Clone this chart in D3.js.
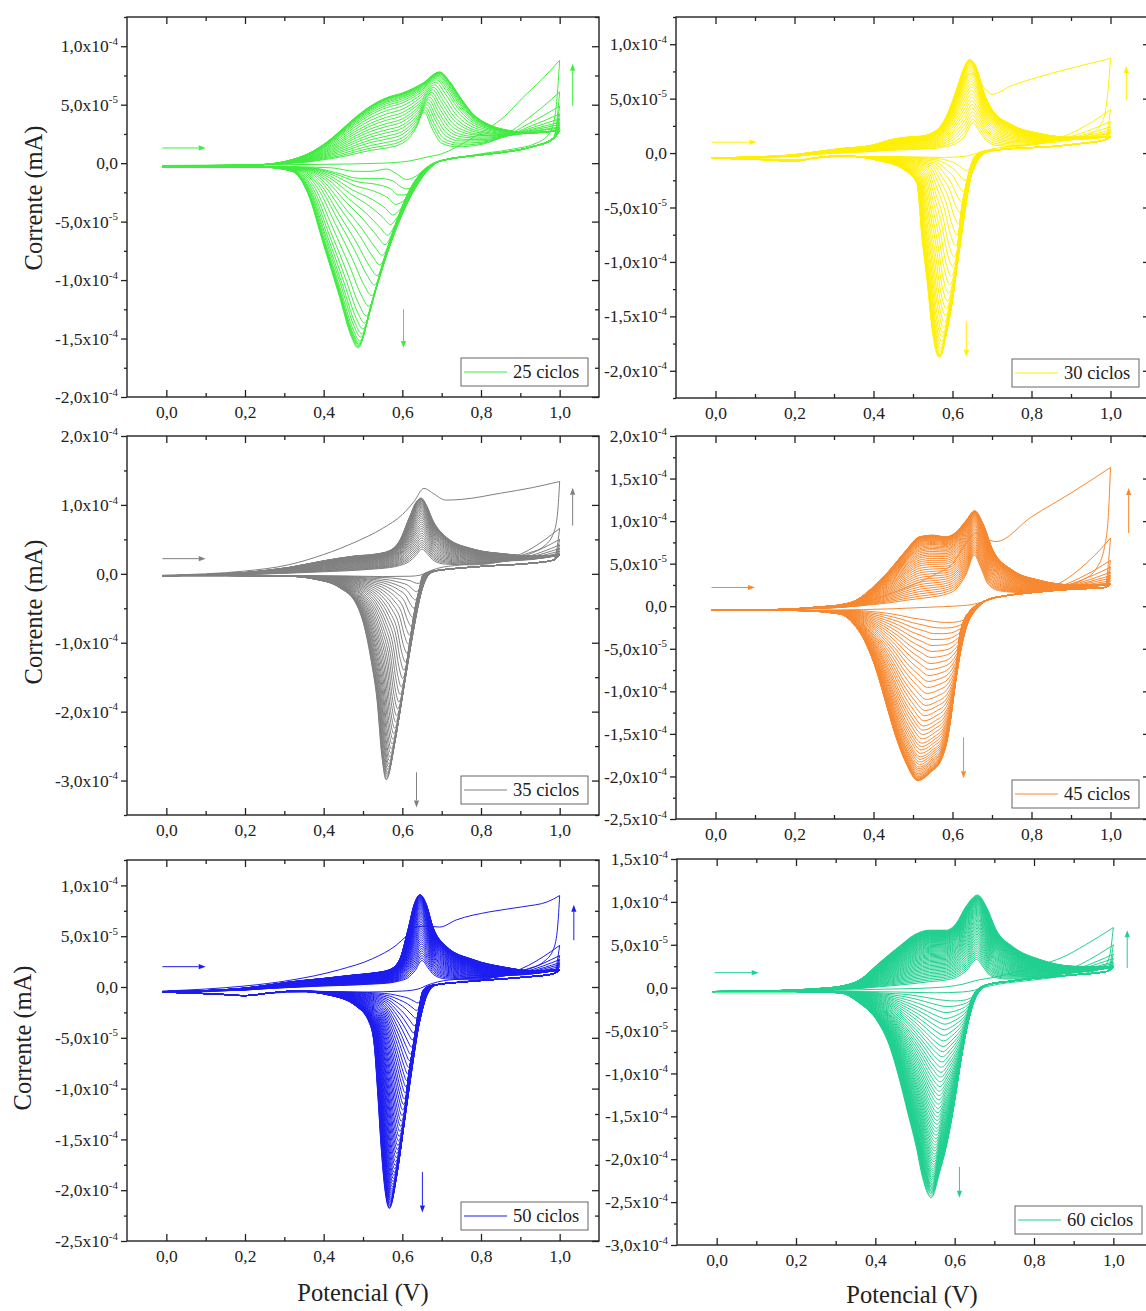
<!DOCTYPE html>
<html>
<head>
<meta charset="utf-8">
<script src="https://cdn.jsdelivr.net/npm/d3@7"></script>
<style>
  body { margin: 0; background: #fff; }
  svg { display: block; }
  text { font-family: "Liberation Serif", "Times New Roman", serif; fill: #222; }
</style>
</head>
<body>
<svg id="fig" width="1146" height="1311"></svg>
<script>
// currents in the arrays are in units of 1e-5 mA, potentials in V
const UNIT = 1e-5;

const xDomain = [-0.1, 1.1];
const xMajor = [0, 0.2, 0.4, 0.6, 0.8, 1.0];
const xMinor = [0.1, 0.3, 0.5, 0.7, 0.9];
// potentials used to draw the rising branch before the 1,0 V vertex
const tailE = [0.80, 0.84, 0.88, 0.92, 0.96, 1.0];

// ---------- 25 ciclos ----------
const yDom25 = [-2e-4, 1.25e-4];
const yTicks25 = [-2e-4, -1.5e-4, -1e-4, -5e-5, 0, 5e-5, 1e-4];
const fwdFirst25 = [[-0.01,-0.2],[0.2,-0.15],[0.4,-0.1],[0.55,0],[0.62,0.2],[0.66,0.5],[0.70,0.8],[0.77,2.0],[0.82,3.0],[0.86,4.0],[0.906,5.6],[0.95,7.0],[1.0,8.8]];
const revFirst25 = [[1.0,8.8],[0.99,4.5],[0.975,2.6],[0.94,1.7],[0.88,1.2],[0.80,0.8],[0.73,0.4],[0.685,0.1],[0.66,-0.4],[0.635,-1.1],[0.61,-1.4],[0.585,-0.9],[0.56,-0.5],[0.52,-0.7],[0.48,-0.7],[0.42,-0.4],[0.3,-0.3],[0.1,-0.3],[-0.01,-0.3]];
const fwdEarly25 = [[-0.01,-0.2],[0.1,-0.2],[0.2,-0.15],[0.28,-0.1],[0.32,0],[0.36,0.1],[0.40,0.3],[0.44,0.5],[0.48,0.8],[0.52,1.1],[0.56,1.3],[0.60,1.7],[0.635,3.0],[0.655,4.4],[0.675,3.0],[0.70,1.7],[0.74,1.4],[0.80,1.6],[0.86,2.0],[0.93,2.6],[1.0,2.8]];
const fwdLate25 = [[-0.01,-0.3],[0.1,-0.25],[0.2,-0.2],[0.28,0],[0.32,0.3],[0.36,0.8],[0.40,1.6],[0.44,2.7],[0.48,3.9],[0.52,4.9],[0.56,5.6],[0.60,6.0],[0.65,6.8],[0.695,7.8],[0.72,7.0],[0.75,5.5],[0.78,4.2],[0.82,3.3],[0.87,2.8],[0.93,2.6],[1.0,2.8]];
const revEarly25 = [[1.0,2.8],[0.985,2.2],[0.93,1.4],[0.85,0.9],[0.77,0.6],[0.72,0.35],[0.69,0.1],[0.675,-0.3],[0.655,-1.0],[0.64,-1.7],[0.625,-2.1],[0.61,-2.2],[0.595,-2.0],[0.575,-1.5],[0.54,-1.3],[0.49,-1.3],[0.43,-0.8],[0.37,-0.4],[0.28,-0.3],[0.1,-0.3],[-0.01,-0.3]];
const revLate25 = [[1.0,2.8],[0.985,2.1],[0.93,1.4],[0.85,0.9],[0.77,0.6],[0.71,0.3],[0.675,-0.1],[0.655,-0.6],[0.62,-2.2],[0.585,-5.0],[0.55,-8.6],[0.52,-12.2],[0.487,-15.8],[0.47,-14.8],[0.44,-11.4],[0.40,-7.0],[0.36,-2.6],[0.32,-0.7],[0.25,-0.35],[0.1,-0.3],[-0.01,-0.3]];
const peaks25 = [-1.4,-2.2,-2.9,-3.7,-4.6,-5.4,-6.3,-7.1,-8.0,-8.8,-9.7,-10.5,-11.4,-12.3,-13.1,-13.7,-14.2,-14.6,-14.9,-15.2,-15.4,-15.5,-15.6,-15.7,-15.8];
const vertex25 = [6.1, 4.9, 4.2, 3.8, 3.5, 3.3, 3.1, 3.0];
const arrows25 = [[-0.01,1.3,0.1,1.3],[0.603,-12.5,0.603,-15.8],[1.033,4.9,1.033,8.5]];

// ---------- 30 ciclos ----------
const yDom30 = [-2.25e-4, 1.25e-4];
const yTicks30 = [-2e-4, -1.5e-4, -1e-4, -5e-5, 0, 5e-5, 1e-4];
const fwdFirst30 = [[-0.01,-0.45],[0.1,-0.35],[0.2,-0.15],[0.3,0.3],[0.4,0.7],[0.48,1.3],[0.54,1.7],[0.58,2.8],[0.61,5.0],[0.635,7.0],[0.65,7.3],[0.665,6.8],[0.685,5.8],[0.70,5.4],[0.75,6.2],[0.8,6.8],[0.9,7.8],[1.0,8.7]];
const revFirst30 = [[1.0,8.7],[0.99,4.5],[0.975,2.6],[0.94,1.6],[0.88,1.1],[0.8,0.8],[0.72,0.5],[0.68,0.2],[0.655,-0.1],[0.63,-0.3],[0.58,-0.4],[0.5,-0.35],[0.4,-0.3],[0.3,-0.35],[0.2,-0.6],[0.1,-0.5],[-0.01,-0.45]];
const fwdEarly30 = [[-0.01,-0.45],[0.1,-0.4],[0.2,-0.3],[0.26,-0.1],[0.314,0],[0.40,0.15],[0.44,0.25],[0.48,0.3],[0.52,0.35],[0.56,0.45],[0.585,0.6],[0.61,0.9],[0.632,1.6],[0.652,2.8],[0.668,2.0],[0.685,1.2],[0.71,0.7],[0.76,0.6],[0.82,0.8],[0.90,1.1],[1.0,1.5]];
const fwdLate30 = [[-0.01,-0.45],[0.1,-0.35],[0.2,-0.15],[0.26,0.15],[0.314,0.4],[0.40,0.75],[0.44,1.2],[0.48,1.45],[0.52,1.55],[0.56,2.1],[0.585,3.4],[0.61,5.8],[0.63,7.9],[0.643,8.6],[0.66,7.9],[0.677,5.8],[0.70,4.0],[0.75,2.6],[0.82,1.8],[0.90,1.45],[1.0,1.5]];
const revEarly30 = [[1.0,1.5],[0.985,1.2],[0.93,0.9],[0.85,0.6],[0.77,0.45],[0.72,0.3],[0.69,0.1],[0.675,-0.2],[0.665,-0.6],[0.655,-1.0],[0.648,-1.3],[0.642,-1.5],[0.635,-1.6],[0.625,-1.4],[0.61,-1.0],[0.59,-0.7],[0.56,-0.5],[0.50,-0.4],[0.415,-0.35],[0.32,-0.3],[0.25,-0.45],[0.2,-0.7],[0.12,-0.6],[-0.01,-0.45]];
const revLate30 = [[1.0,1.5],[0.985,1.2],[0.93,0.9],[0.85,0.6],[0.77,0.45],[0.71,0.3],[0.672,0.1],[0.655,-0.4],[0.635,-2.8],[0.62,-5.9],[0.605,-12.0],[0.585,-16.5],[0.567,-18.8],[0.55,-16.6],[0.535,-11.5],[0.522,-7.5],[0.51,-2.8],[0.48,-1.6],[0.415,-0.7],[0.32,-0.25],[0.25,-0.45],[0.2,-0.75],[0.12,-0.6],[-0.01,-0.45]];
const peaks30 = [-0.5,-1.6,-2.5,-3.5,-4.5,-5.5,-6.5,-7.5,-8.5,-9.5,-10.4,-11.3,-12.1,-12.9,-13.6,-14.3,-14.9,-15.5,-16.0,-16.5,-16.9,-17.3,-17.6,-17.9,-18.1,-18.3,-18.5,-18.6,-18.7,-18.8];
const vertex30 = [4.0, 2.9, 2.4, 2.1, 1.9, 1.8];
const arrows30 = [[-0.01,1.0,0.104,1.0],[0.635,-15.5,0.635,-18.7],[1.04,4.9,1.04,8.0]];

// ---------- 35 ciclos ----------
const yDom35 = [-3.5e-4, 2e-4];
const yTicks35 = [-3e-4, -2e-4, -1e-4, 0, 1e-4, 2e-4];
const fwdFirst35 = [[-0.01,-0.2],[0.1,0],[0.2,0.4],[0.31,1.3],[0.4,2.8],[0.48,4.6],[0.55,6.6],[0.6,8.6],[0.63,10.5],[0.655,12.4],[0.68,11.6],[0.71,10.7],[0.75,10.8],[0.85,11.7],[0.93,12.5],[1.0,13.4]];
const revFirst35 = [[1.0,13.4],[0.995,9.0],[0.985,6.0],[0.96,4.0],[0.92,3.0],[0.85,2.0],[0.75,1.3],[0.69,0.8],[0.665,0.3],[0.645,-0.2],[0.62,-0.35],[0.55,-0.4],[0.45,-0.3],[0.3,-0.25],[0.1,-0.25],[-0.01,-0.25]];
const fwdEarly35 = [[-0.01,-0.3],[0.1,-0.2],[0.2,-0.1],[0.26,0],[0.313,0.1],[0.40,0.3],[0.48,0.5],[0.53,0.7],[0.567,0.9],[0.593,1.2],[0.618,1.8],[0.635,2.7],[0.65,3.6],[0.665,2.8],[0.68,1.9],[0.71,1.4],[0.78,1.3],[0.86,1.5],[0.93,1.9],[1.0,2.7]];
const fwdLate35 = [[-0.01,-0.3],[0.1,-0.1],[0.2,0.2],[0.26,0.55],[0.313,0.95],[0.40,1.9],[0.48,2.6],[0.53,2.85],[0.567,3.35],[0.593,4.8],[0.618,8.2],[0.635,10.4],[0.648,11.0],[0.66,10.1],[0.678,7.7],[0.712,5.3],[0.78,3.6],[0.86,2.9],[0.93,2.6],[1.0,2.7]];
const revEarly35 = [[1.0,2.7],[0.985,2.0],[0.92,1.5],[0.82,1.15],[0.74,0.8],[0.70,0.55],[0.68,0.3],[0.67,0.0],[0.665,-0.3],[0.66,-0.6],[0.655,-0.9],[0.65,-1.1],[0.645,-1.3],[0.64,-1.4],[0.632,-1.3],[0.62,-1.0],[0.60,-0.8],[0.57,-0.6],[0.53,-0.5],[0.47,-0.4],[0.38,-0.3],[0.31,-0.25],[0.15,-0.25],[-0.01,-0.25]];
const revLate35 = [[1.0,2.7],[0.985,2.0],[0.92,1.5],[0.82,1.15],[0.74,0.8],[0.69,0.5],[0.665,0.2],[0.652,-0.2],[0.644,-2.0],[0.631,-5.4],[0.618,-10.2],[0.60,-17.5],[0.58,-24.8],[0.559,-29.9],[0.548,-26.5],[0.536,-18.5],[0.521,-12.7],[0.504,-7.8],[0.483,-4.4],[0.44,-2.0],[0.38,-0.8],[0.31,-0.35],[0.15,-0.25],[-0.01,-0.25]];
const peaks35 = [-0.4,-1.4,-2.6,-3.8,-5.0,-6.3,-7.6,-8.9,-10.2,-11.5,-12.8,-14.0,-15.2,-16.4,-17.5,-18.6,-19.6,-20.6,-21.5,-22.4,-23.2,-24.0,-24.7,-25.4,-26.0,-26.6,-27.1,-27.6,-28.0,-28.4,-28.8,-29.1,-29.4,-29.7,-29.9];
const vertex35 = [6.6, 5.0, 4.2, 3.7, 3.3, 3.0];
const arrows35 = [[-0.01,2.2,0.1,2.2],[0.636,-28.8,0.636,-33.9],[1.033,7.0,1.033,12.5]];

// ---------- 45 ciclos ----------
const yDom45 = [-2.5e-4, 2e-4];
const yTicks45 = [-2.5e-4, -2e-4, -1.5e-4, -1e-4, -5e-5, 0, 5e-5, 1e-4, 1.5e-4, 2e-4];
const fwdFirst45 = [[-0.01,-0.5],[0.2,-0.3],[0.35,0.2],[0.45,1.6],[0.55,3.6],[0.6,5.0],[0.64,7.8],[0.66,8.6],[0.685,7.9],[0.71,7.6],[0.8,10.5],[0.9,13.3],[1.0,16.3]];
const revFirst45 = [[1.0,16.3],[0.995,11.0],[0.985,7.0],[0.965,4.5],[0.93,3.1],[0.87,2.3],[0.78,1.6],[0.71,1.0],[0.675,0.5],[0.65,0.2],[0.6,0.0],[0.55,-0.1],[0.45,-0.3],[0.3,-0.45],[0.1,-0.5],[-0.01,-0.5]];
const fwdEarly45 = [[-0.01,-0.5],[0.1,-0.45],[0.2,-0.35],[0.27,-0.25],[0.314,-0.15],[0.356,0],[0.40,0.2],[0.44,0.4],[0.483,0.7],[0.516,0.9],[0.55,1.1],[0.583,1.4],[0.609,2.0],[0.635,3.8],[0.655,6.0],[0.672,4.5],[0.69,2.6],[0.72,1.8],[0.78,1.6],[0.88,1.9],[1.0,2.6]];
const fwdLate45 = [[-0.01,-0.5],[0.1,-0.45],[0.2,-0.3],[0.27,-0.05],[0.314,0.15],[0.356,0.7],[0.40,2.3],[0.44,4.2],[0.483,6.6],[0.516,8.15],[0.55,8.35],[0.583,8.15],[0.609,8.7],[0.635,10.1],[0.656,11.2],[0.677,9.7],[0.702,6.6],[0.753,4.2],[0.82,3.05],[0.905,2.5],[1.0,2.6]];
const revEarly45 = [[1.0,2.6],[0.985,2.2],[0.90,2.0],[0.80,1.6],[0.73,1.2],[0.70,0.9],[0.68,0.5],[0.67,0.1],[0.66,-0.4],[0.65,-0.9],[0.64,-1.3],[0.63,-1.6],[0.615,-1.8],[0.60,-1.9],[0.58,-1.9],[0.555,-1.8],[0.53,-1.6],[0.50,-1.4],[0.47,-1.1],[0.43,-0.8],[0.39,-0.6],[0.35,-0.5],[0.314,-0.5],[0.2,-0.5],[-0.01,-0.5]];
const revLate45 = [[1.0,2.6],[0.985,2.2],[0.90,2.0],[0.80,1.6],[0.73,1.2],[0.69,0.8],[0.668,0.3],[0.645,-0.5],[0.628,-1.8],[0.617,-3.8],[0.609,-7.5],[0.60,-11.5],[0.588,-15.4],[0.572,-18.0],[0.545,-19.5],[0.512,-20.5],[0.483,-18.5],[0.457,-15.4],[0.432,-11.5],[0.407,-7.5],[0.381,-4.4],[0.348,-2.0],[0.314,-0.9],[0.2,-0.5],[-0.01,-0.5]];
const peaks45 = [-0.3,-1.9,-2.6,-3.3,-4.0,-4.7,-5.4,-6.1,-6.8,-7.5,-8.2,-8.9,-9.6,-10.3,-11.0,-11.7,-12.3,-12.9,-13.5,-14.1,-14.6,-15.1,-15.6,-16.1,-16.5,-16.9,-17.3,-17.7,-18.0,-18.3,-18.6,-18.9,-19.1,-19.3,-19.5,-19.7,-19.85,-20.0,-20.1,-20.2,-20.3,-20.35,-20.4,-20.45,-20.5];
const vertex45 = [8.0, 5.4, 4.6, 4.0, 3.6, 3.3, 3.0];
const arrows45 = [[-0.01,2.2,0.1,2.2],[0.628,-15.4,0.628,-20.2],[1.046,8.6,1.046,13.9]];

// ---------- 50 ciclos ----------
const yDom50 = [-2.5e-4, 1.25e-4];
const yTicks50 = [-2.5e-4, -2e-4, -1.5e-4, -1e-4, -5e-5, 0, 5e-5, 1e-4];
const fwdFirst50 = [[-0.01,-0.4],[0.1,-0.2],[0.2,0.1],[0.313,0.65],[0.44,1.7],[0.525,2.8],[0.584,4.1],[0.61,5.0],[0.635,5.9],[0.66,6.0],[0.695,5.9],[0.737,6.6],[0.822,7.4],[0.906,7.9],[0.97,8.4],[1.0,9.0]];
const revFirst50 = [[1.0,9.0],[0.995,6.0],[0.985,3.8],[0.96,2.5],[0.92,1.8],[0.85,1.2],[0.75,0.8],[0.69,0.5],[0.665,0.2],[0.64,-0.2],[0.6,-0.4],[0.5,-0.5],[0.35,-0.5],[0.26,-0.6],[0.2,-0.85],[0.12,-0.65],[-0.01,-0.5]];
const fwdEarly50 = [[-0.01,-0.45],[0.1,-0.4],[0.2,-0.3],[0.26,-0.15],[0.313,-0.05],[0.40,0.1],[0.48,0.2],[0.53,0.3],[0.567,0.4],[0.593,0.6],[0.614,0.9],[0.632,1.6],[0.65,2.6],[0.665,1.9],[0.68,1.2],[0.71,0.8],[0.78,0.7],[0.86,0.9],[0.93,1.2],[1.0,1.7]];
const fwdLate50 = [[-0.01,-0.45],[0.1,-0.35],[0.2,-0.1],[0.26,0.2],[0.313,0.5],[0.40,0.85],[0.48,1.2],[0.53,1.4],[0.567,1.7],[0.593,2.7],[0.614,5.6],[0.631,8.25],[0.645,9.1],[0.66,8.25],[0.678,5.9],[0.712,4.0],[0.78,2.7],[0.86,1.95],[0.93,1.6],[1.0,1.7]];
const revEarly50 = [[1.0,1.7],[0.985,1.3],[0.92,1.0],[0.82,0.7],[0.74,0.45],[0.70,0.3],[0.68,0.1],[0.672,-0.2],[0.665,-0.6],[0.66,-0.9],[0.655,-1.2],[0.65,-1.4],[0.645,-1.5],[0.638,-1.55],[0.63,-1.4],[0.615,-1.1],[0.595,-0.9],[0.57,-0.7],[0.54,-0.6],[0.483,-0.5],[0.415,-0.45],[0.33,-0.4],[0.26,-0.6],[0.2,-0.85],[0.13,-0.7],[-0.01,-0.5]];
const revLate50 = [[1.0,1.7],[0.985,1.3],[0.92,1.0],[0.82,0.7],[0.74,0.45],[0.69,0.25],[0.665,0.05],[0.652,-0.4],[0.64,-2.6],[0.627,-5.9],[0.614,-9.2],[0.60,-14.5],[0.584,-19.0],[0.567,-21.8],[0.555,-19.7],[0.546,-15.7],[0.538,-10.8],[0.529,-5.9],[0.517,-3.6],[0.483,-1.9],[0.415,-0.8],[0.33,-0.4],[0.26,-0.6],[0.2,-0.85],[0.13,-0.7],[-0.01,-0.5]];
const peaks50 = [-0.5,-1.55,-2.3,-3.05,-3.8,-4.5,-5.2,-5.9,-6.6,-7.25,-7.9,-8.55,-9.2,-9.8,-10.4,-11.0,-11.55,-12.1,-12.65,-13.2,-13.7,-14.2,-14.7,-15.15,-15.6,-16.0,-16.4,-16.8,-17.2,-17.55,-17.9,-18.25,-18.55,-18.85,-19.15,-19.4,-19.65,-19.9,-20.1,-20.3,-20.5,-20.7,-20.85,-21.0,-21.15,-21.3,-21.45,-21.55,-21.7,-21.8];
const vertex50 = [4.1, 3.1, 2.7, 2.4, 2.2, 2.0];
const arrows50 = [[-0.01,2.0,0.1,2.0],[0.651,-18.2,0.651,-22.2],[1.036,4.6,1.036,8.1]];

// ---------- 60 ciclos ----------
const yDom60 = [-3e-4, 1.5e-4];
const yTicks60 = [-3e-4, -2.5e-4, -2e-4, -1.5e-4, -1e-4, -5e-5, 0, 5e-5, 1e-4, 1.5e-4];
const fwdFirst60 = [[-0.01,-0.45],[0.2,-0.4],[0.4,-0.2],[0.55,0],[0.62,0.4],[0.66,0.9],[0.7,1.2],[0.76,1.9],[0.82,2.7],[0.87,3.5],[0.93,5.0],[1.0,7.0]];
const revFirst60 = [[1.0,7.0],[0.99,3.6],[0.975,2.4],[0.94,1.8],[0.87,1.3],[0.78,0.8],[0.71,0.4],[0.675,0.05],[0.65,-0.3],[0.62,-0.5],[0.55,-0.6],[0.45,-0.5],[0.3,-0.45],[0.1,-0.45],[-0.01,-0.45]];
const fwdEarly60 = [[-0.01,-0.45],[0.1,-0.45],[0.2,-0.4],[0.27,-0.3],[0.31,-0.2],[0.36,-0.1],[0.41,0.1],[0.46,0.3],[0.50,0.5],[0.537,0.7],[0.579,0.9],[0.604,1.2],[0.63,2.0],[0.655,3.3],[0.672,2.4],[0.69,1.4],[0.73,1.0],[0.80,1.1],[0.89,1.5],[1.0,2.4]];
const fwdLate60 = [[-0.01,-0.45],[0.1,-0.4],[0.2,-0.25],[0.27,-0.05],[0.31,0.15],[0.36,0.9],[0.41,2.9],[0.46,4.8],[0.50,6.2],[0.537,6.7],[0.579,6.7],[0.604,7.5],[0.629,9.5],[0.658,10.8],[0.679,9.5],[0.705,6.7],[0.746,4.8],[0.814,3.3],[0.897,2.5],[1.0,2.4]];
const revEarly60 = [[1.0,2.4],[0.985,1.9],[0.90,1.5],[0.80,1.1],[0.73,0.7],[0.70,0.5],[0.68,0.25],[0.67,-0.1],[0.66,-0.5],[0.65,-0.9],[0.64,-1.2],[0.63,-1.4],[0.615,-1.5],[0.60,-1.55],[0.58,-1.5],[0.56,-1.4],[0.535,-1.2],[0.51,-1.0],[0.48,-0.8],[0.45,-0.7],[0.41,-0.6],[0.36,-0.5],[0.31,-0.45],[0.2,-0.45],[-0.01,-0.45]];
const revLate60 = [[1.0,2.4],[0.985,1.9],[0.90,1.5],[0.80,1.1],[0.73,0.7],[0.69,0.45],[0.67,0.15],[0.652,-0.5],[0.633,-2.9],[0.62,-6.8],[0.608,-10.7],[0.595,-14.6],[0.579,-18.5],[0.562,-21.5],[0.541,-24.5],[0.52,-22.3],[0.503,-18.5],[0.482,-14.6],[0.461,-10.7],[0.436,-6.8],[0.402,-3.7],[0.36,-1.8],[0.31,-0.6],[0.2,-0.45],[-0.01,-0.45]];
const peaks60 = [-0.6,-1.55,-2.25,-2.95,-3.65,-4.3,-4.95,-5.6,-6.25,-6.9,-7.5,-8.1,-8.7,-9.3,-9.9,-10.45,-11.0,-11.55,-12.1,-12.6,-13.1,-13.6,-14.1,-14.6,-15.05,-15.5,-15.95,-16.4,-16.8,-17.2,-17.6,-18.0,-18.35,-18.7,-19.05,-19.4,-19.7,-20.0,-20.3,-20.6,-20.85,-21.1,-21.35,-21.6,-21.85,-22.05,-22.25,-22.45,-22.65,-22.85,-23.0,-23.15,-23.3,-23.45,-23.6,-23.75,-23.9,-24.05,-24.3,-24.5];
const vertex60 = [5.0, 3.9, 3.4, 3.0, 2.8, 2.6];
const arrows60 = [[-0.005,1.75,0.106,1.75],[0.612,-20.9,0.612,-24.5],[1.035,2.3,1.035,6.7]];

// ---------- panels ----------
const panels = [
  { label: "25 ciclos", color: "#3fec3f", box: [127, 17, 599, 397], yDom: yDom25, yTicks: yTicks25,
    fwdFirst: fwdFirst25, revFirst: revFirst25, fwdEarly: fwdEarly25, fwdLate: fwdLate25,
    revEarly: revEarly25, revLate: revLate25, peaks: peaks25, vertex: vertex25, arrows: arrows25,
    yTitle: [33, 198], xTitle: null },
  { label: "30 ciclos", color: "#fff000", box: [676, 17, 1150, 398], yDom: yDom30, yTicks: yTicks30,
    fwdFirst: fwdFirst30, revFirst: revFirst30, fwdEarly: fwdEarly30, fwdLate: fwdLate30,
    revEarly: revEarly30, revLate: revLate30, peaks: peaks30, vertex: vertex30, arrows: arrows30,
    yTitle: null, xTitle: null },
  { label: "35 ciclos", color: "#808080", box: [127, 436, 599, 815], yDom: yDom35, yTicks: yTicks35,
    fwdFirst: fwdFirst35, revFirst: revFirst35, fwdEarly: fwdEarly35, fwdLate: fwdLate35,
    revEarly: revEarly35, revLate: revLate35, peaks: peaks35, vertex: vertex35, arrows: arrows35,
    yTitle: [33, 612], xTitle: null },
  { label: "45 ciclos", color: "#f7882f", box: [676, 436, 1150, 819], yDom: yDom45, yTicks: yTicks45,
    fwdFirst: fwdFirst45, revFirst: revFirst45, fwdEarly: fwdEarly45, fwdLate: fwdLate45,
    revEarly: revEarly45, revLate: revLate45, peaks: peaks45, vertex: vertex45, arrows: arrows45,
    yTitle: null, xTitle: null },
  { label: "50 ciclos", color: "#1c1cf0", box: [127, 860, 599, 1241], yDom: yDom50, yTicks: yTicks50,
    fwdFirst: fwdFirst50, revFirst: revFirst50, fwdEarly: fwdEarly50, fwdLate: fwdLate50,
    revEarly: revEarly50, revLate: revLate50, peaks: peaks50, vertex: vertex50, arrows: arrows50,
    yTitle: [22, 1038], xTitle: [363, 1301] },
  { label: "60 ciclos", color: "#20d090", box: [677, 859, 1153, 1245], yDom: yDom60, yTicks: yTicks60,
    fwdFirst: fwdFirst60, revFirst: revFirst60, fwdEarly: fwdEarly60, fwdLate: fwdLate60,
    revEarly: revEarly60, revLate: revLate60, peaks: peaks60, vertex: vertex60, arrows: arrows60,
    yTitle: null, xTitle: [912, 1303] }
];

const svg = d3.select("#fig");

function blend(a, b, t) {
  return a.map((p, i) => [p[0] + (b[i][0] - p[0]) * t, p[1] + (b[i][1] - p[1]) * t]);
}

// current of a knot list at potential e (straight between knots)
function valueAt(pts, e) {
  for (let i = 1; i < pts.length; i++) {
    if (e <= pts[i][0]) {
      const [e0, i0] = pts[i - 1], [e1, i1] = pts[i];
      return i0 + (i1 - i0) * (e - e0) / (e1 - e0);
    }
  }
  return pts[pts.length - 1][1];
}

// first cycle as read, later cycles placed between the 2nd and last cycle by their cathodic peak
function buildCycles(p) {
  const out = [{ fwd: p.fwdFirst, rev: p.revFirst }];
  const n = p.peaks.length;
  const p2 = p.peaks[1], pN = p.peaks[n - 1];
  for (let k = 1; k < n; k++) {
    const t = (p.peaks[k] - p2) / (pN - p2);
    let fwd = blend(p.fwdEarly, p.fwdLate, t);
    const rev = blend(p.revEarly, p.revLate, t);
    const v = p.vertex[k - 1];
    if (v !== undefined) {
      const base = fwd[fwd.length - 1][1];
      const head = fwd.filter(d => d[0] < tailE[0]);
      const tail = tailE.map(e => [e, valueAt(fwd, e) + (v - base) * Math.pow((e - tailE[0]) / (1 - tailE[0]), 1.8)]);
      fwd = head.concat(tail);
      rev[0] = [rev[0][0], v];
    }
    out.push({ fwd, rev });
  }
  return out;
}

function sciParts(v) {
  if (Math.abs(v) < 1e-12) return ["0,0", null];
  const exp = Math.floor(Math.log10(Math.abs(v)) + 1e-9);
  const man = v / Math.pow(10, exp);
  return [man.toFixed(1).replace(".", ",") + "x10", String(exp)];
}

panels.forEach((p, pi) => {
  const [l, t, r, b] = p.box;
  const w = r - l, h = b - t;
  const g = svg.append("g").attr("transform", `translate(${l},${t})`);
  const x = d3.scaleLinear().domain(xDomain).range([0, w]);
  const y = d3.scaleLinear().domain(p.yDom).range([h, 0]);

  g.append("clipPath").attr("id", "clip" + pi)
    .append("rect").attr("width", w).attr("height", h);

  const line = d3.line().x(d => x(d[0])).y(d => y(d[1] * UNIT)).curve(d3.curveMonotoneX);
  const curves = g.append("g").attr("clip-path", `url(#clip${pi})`)
    .attr("fill", "none").attr("stroke", p.color).attr("stroke-width", 1);
  buildCycles(p).forEach(c => {
    curves.append("path").attr("d", line(c.fwd));
    curves.append("path").attr("d", line(c.rev.slice().reverse()));
  });

  // arrows
  p.arrows.forEach(([x1, y1, x2, y2]) => {
    const X1 = x(x1), Y1 = y(y1 * UNIT), X2 = x(x2), Y2 = y(y2 * UNIT);
    const ang = Math.atan2(Y2 - Y1, X2 - X1);
    const L = 7, W = 2.6;
    const bx = X2 - L * Math.cos(ang), by = Y2 - L * Math.sin(ang);
    g.append("line").attr("x1", X1).attr("y1", Y1).attr("x2", bx).attr("y2", by)
      .attr("stroke", p.color).attr("stroke-width", 1);
    g.append("path")
      .attr("d", `M${X2},${Y2}L${bx - W * Math.sin(ang)},${by + W * Math.cos(ang)}L${bx + W * Math.sin(ang)},${by - W * Math.cos(ang)}Z`)
      .attr("fill", p.color);
  });

  // minor y ticks: half steps between majors
  const step = p.yTicks[1] - p.yTicks[0];
  const yMinor = [];
  for (let k = Math.ceil(p.yDom[0] / (step / 2) - 1e-6); k * step / 2 <= p.yDom[1] + 1e-12; k++) {
    const v = k * step / 2;
    if (!p.yTicks.some(m => Math.abs(m - v) < step * 1e-3)) yMinor.push(v);
  }

  const styleAxis = sel => {
    sel.select(".domain").remove();
    sel.selectAll(".tick line").attr("stroke", "#222").attr("stroke-width", 1.3);
  };

  // bottom
  g.append("g").attr("transform", `translate(0,${h})`)
    .call(d3.axisBottom(x).tickValues(xMajor).tickSize(-7).tickPadding(9)
      .tickFormat(d => d.toFixed(1).replace(".", ",")))
    .call(styleAxis)
    .call(s => s.selectAll("text").attr("font-size", 17.5).attr("fill", "#222")
      .attr("font-family", '"Liberation Serif", serif'));
  g.append("g").attr("transform", `translate(0,${h})`)
    .call(d3.axisBottom(x).tickValues(xMinor).tickSize(-4).tickFormat(""))
    .call(styleAxis);
  // top
  g.append("g").call(d3.axisTop(x).tickValues(xMajor).tickSize(-7).tickFormat("")).call(styleAxis);
  g.append("g").call(d3.axisTop(x).tickValues(xMinor).tickSize(-4).tickFormat("")).call(styleAxis);
  // left (outward)
  g.append("g").call(d3.axisLeft(y).tickValues(p.yTicks).tickSize(6).tickFormat("")).call(styleAxis);
  g.append("g").call(d3.axisLeft(y).tickValues(yMinor).tickSize(3).tickFormat("")).call(styleAxis);
  // right (inward)
  g.append("g").attr("transform", `translate(${w},0)`)
    .call(d3.axisRight(y).tickValues(p.yTicks).tickSize(-7).tickFormat("")).call(styleAxis);
  g.append("g").attr("transform", `translate(${w},0)`)
    .call(d3.axisRight(y).tickValues(yMinor).tickSize(-4).tickFormat("")).call(styleAxis);

  // y tick labels with superscript exponent
  p.yTicks.forEach(v => {
    const [main, ex] = sciParts(v);
    const txt = g.append("text").attr("x", -9).attr("y", y(v)).attr("dy", "0.35em")
      .attr("text-anchor", "end").attr("font-size", 17.5).text(main);
    if (ex) txt.append("tspan").attr("dy", -7.5).attr("font-size", 11).text(ex);
  });

  // frame
  g.append("rect").attr("width", w).attr("height", h)
    .attr("fill", "none").attr("stroke", "#222").attr("stroke-width", 1.4);

  // legend
  const lw = 127, lh = 28;
  const lg = g.append("g").attr("transform", `translate(${w - 11 - lw},${h - 11 - lh})`);
  lg.append("rect").attr("width", lw).attr("height", lh).attr("fill", "#fff")
    .attr("stroke", "#666").attr("stroke-width", 1);
  lg.append("line").attr("x1", 3).attr("x2", 46).attr("y1", lh / 2).attr("y2", lh / 2)
    .attr("stroke", p.color).attr("stroke-width", 1.2);
  lg.append("text").attr("x", 52).attr("y", lh / 2).attr("dy", "0.35em")
    .attr("font-size", 18.5).text(p.label);

  // titles
  if (p.yTitle) {
    svg.append("text")
      .attr("transform", `translate(${p.yTitle[0]},${p.yTitle[1]}) rotate(-90)`)
      .attr("text-anchor", "middle").attr("dy", "0.35em").attr("font-size", 24.5)
      .text("Corrente (mA)");
  }
  if (p.xTitle) {
    svg.append("text").attr("x", p.xTitle[0]).attr("y", p.xTitle[1])
      .attr("text-anchor", "middle").attr("font-size", 24.5).text("Potencial (V)");
  }
});
</script>
</body>
</html>
